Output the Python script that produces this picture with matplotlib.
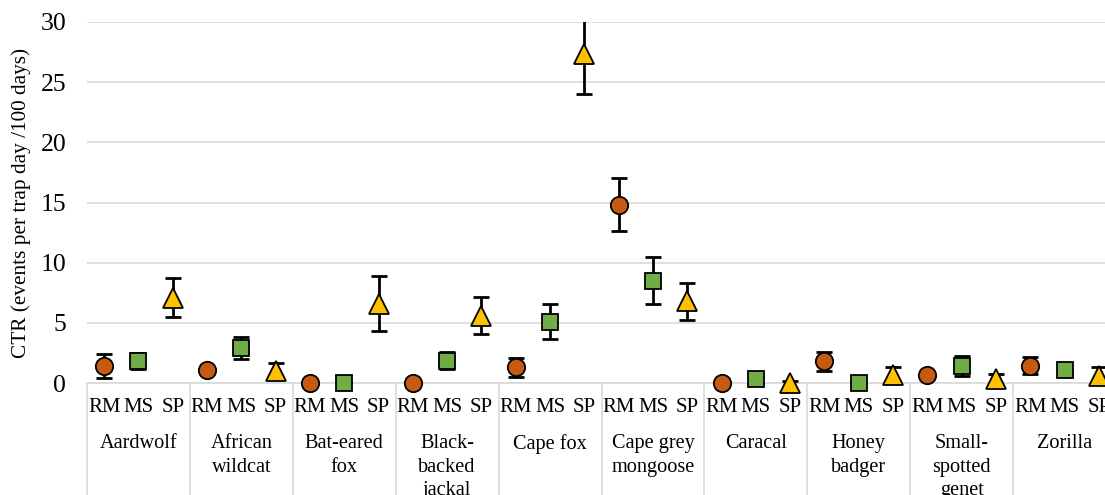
import numpy as np
import matplotlib
matplotlib.use('Agg')
import matplotlib.pyplot as plt

# Species groups and sub-categories
species = ['Aardwolf', 'African\nwildcat', 'Bat-eared\nfox', 'Black-\nbacked\njackal',
           'Cape fox', 'Cape grey\nmongoose', 'Caracal', 'Honey\nbadger',
           'Small-\nspotted\ngenet', 'Zorilla']
sub_labels = ['RM', 'MS', 'SP']

# CTR values (events per trap day / 100 days) and error bars
rm = [1.45, 1.1, 0.0, 0.0, 1.3, 14.8, 0.0, 1.8, 0.7, 1.45]
rm_err = [1.0, 0.2, 0.0, 0.0, 0.8, 2.2, 0.0, 0.8, 0.2, 0.7]
ms = [1.85, 2.9, 0.0, 1.85, 5.1, 8.5, 0.3, 0.0, 1.4, 1.05]
ms_err = [0.65, 0.9, 0.0, 0.7, 1.45, 1.95, 0.2, 0.0, 0.85, 0.2]
sp = [7.1, 1.0, 6.6, 5.6, 27.3, 6.8, 0.0, 0.7, 0.3, 0.6]
sp_err = [1.65, 0.7, 2.3, 1.55, 3.3, 1.55, 0.2, 0.6, 0.45, 0.7]

series = [
    (rm, rm_err, 'o', '#C55A11', 12.5),
    (ms, ms_err, 's', '#70AD47', 12),
    (sp, sp_err, '^', '#FFC000', 14),
]

plt.rcParams['font.family'] = ['Liberation Serif', 'DejaVu Serif']

fig = plt.figure(figsize=(11.05, 4.95), dpi=100)
ax = fig.add_axes([87 / 1105, 112 / 495, 1029 / 1105, (383 - 22) / 495])

n = len(species)
for j, (vals, errs, mk, col, ms_size) in enumerate(series):
    x = np.arange(n) * 3 + j
    ax.errorbar(x, vals, yerr=errs, fmt='none', ecolor='black', elinewidth=2,
                capsize=5.5, capthick=2, zorder=3)
    ax.plot(x, vals, linestyle='none', marker=mk, markersize=ms_size,
            markerfacecolor=col, markeredgecolor='black', markeredgewidth=1.3,
            zorder=4, clip_on=False)

ax.set_xlim(-0.5, n * 3 - 0.5)
ax.set_ylim(0, 30)
ax.set_yticks(np.arange(0, 31, 5))
ax.tick_params(axis='y', length=0, pad=15, labelsize=18.5)
ax.grid(axis='y', color='#D9D9D9', linewidth=1.2, zorder=0)
ax.set_axisbelow(True)
for s in ['top', 'right', 'left']:
    ax.spines[s].set_visible(False)
ax.spines['bottom'].set_color('#D9D9D9')
ax.spines['bottom'].set_linewidth(1.2)

ax.set_ylabel('CTR (events per trap day /100 days)', fontsize=15.3, labelpad=7)

# first-level category labels
ax.set_xticks(np.arange(n * 3))
ax.set_xticklabels(sub_labels * n, fontsize=15)
ax.tick_params(axis='x', length=0, pad=11)

# group separators and species labels
ax.vlines(np.arange(n + 1) * 3 - 0.5, -0.5, 0, transform=ax.get_xaxis_transform(),
          color='#D9D9D9', linewidth=1.2, clip_on=False)
for i, name in enumerate(species):
    ax.annotate(name, xy=(i * 3 + 1, 0), xycoords=('data', 'axes fraction'),
                xytext=(0, -37), textcoords='offset points', ha='center', va='top',
                fontsize=14.6, linespacing=1.3, annotation_clip=False)

fig.savefig('out.png', dpi=100)
